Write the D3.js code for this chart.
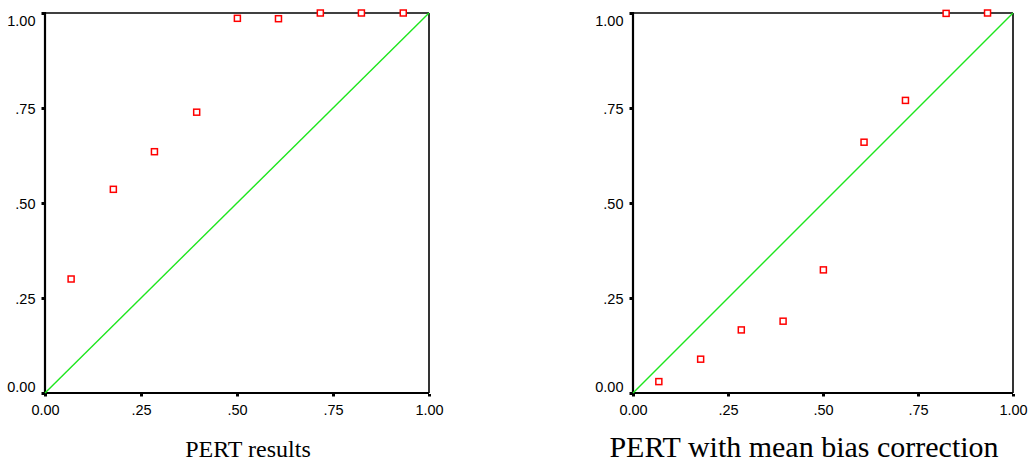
<!DOCTYPE html>
<html>
<head>
<meta charset="utf-8">
<script src="https://cdn.jsdelivr.net/npm/d3@7"></script>
<style>
  html, body { margin: 0; padding: 0; background: #fff; }
  svg { display: block; }
</style>
</head>
<body>
<svg id="chart" width="1030" height="464"></svg>
<script>
// ---- data ----
const tickValues = [0, 0.25, 0.5, 0.75, 1];
const tickLabels = ["0.00", ".25", ".50", ".75", "1.00"];
const xValues = [0.068, 0.178, 0.285, 0.395, 0.501, 0.608, 0.717, 0.824, 0.933];
const pertResults = [0.300, 0.536, 0.635, 0.739, 0.986, 0.985, 1.0, 1.0, 1.0];
const pertBiasCorrected = [0.030, 0.089, 0.166, 0.189, 0.324, 0.660, 0.770, 0.999, 1.0];
const panelTitles = ["PERT results", "PERT with mean bias correction"];

// ---- layout ----
const panels = [
  { x0: 45, x1: 429, y0: 393, y1: 13, values: pertResults, title: panelTitles[0], tx: 248, ts: 24 },
  { x0: 633, x1: 1013, y0: 393, y1: 13, values: pertBiasCorrected, title: panelTitles[1], tx: 804, ts: 30 }
];

const svg = d3.select("#chart");
const fmt = v => tickLabels[tickValues.indexOf(v)];

panels.forEach(p => {
  const x = d3.scaleLinear().domain([0, 1]).range([p.x0, p.x1]);
  const y = d3.scaleLinear().domain([0, 1]).range([p.y0, p.y1]);
  const g = svg.append("g");

  // x axis ticks + labels
  const xa = g.append("g").attr("transform", `translate(0,${p.y0 + 1})`)
    .call(d3.axisBottom(x).tickValues(tickValues).tickFormat(fmt).tickSizeInner(2.5).tickSizeOuter(0));
  xa.select(".domain").remove();
  xa.selectAll(".tick line").attr("stroke", "#000").attr("stroke-width", 3);
  xa.selectAll(".tick text")
    .attr("y", 21).attr("dy", 0)
    .attr("font-family", "'Liberation Sans', Arial, sans-serif")
    .attr("font-size", 14.5).attr("fill", "#000");

  // y axis ticks + labels
  const ya = g.append("g").attr("transform", `translate(${p.x0 - 1},0)`)
    .call(d3.axisLeft(y).tickValues(tickValues).tickFormat(fmt).tickSizeInner(2.5).tickSizeOuter(0));
  ya.select(".domain").remove();
  ya.selectAll(".tick line").attr("stroke", "#000").attr("stroke-width", 3);
  ya.selectAll(".tick text")
    .attr("x", -8.5)
    .attr("dy", d => d === 1 ? "0.85em" : (d === 0 ? "-0.1em" : "0.35em"))
    .attr("font-family", "'Liberation Sans', Arial, sans-serif")
    .attr("font-size", 14.5).attr("fill", "#000");

  // frame
  g.append("line").attr("x1", x(0)).attr("x2", x(1)).attr("y1", y(1)).attr("y2", y(1))
    .attr("stroke", "#000").attr("stroke-width", 1.6);
  g.append("line").attr("x1", x(1)).attr("x2", x(1)).attr("y1", y(1)).attr("y2", y(0))
    .attr("stroke", "#000").attr("stroke-width", 1.6);
  g.append("line").attr("x1", x(0)).attr("x2", x(0)).attr("y1", y(1) - 1).attr("y2", y(0) + 1)
    .attr("stroke", "#000").attr("stroke-width", 2.2);
  g.append("line").attr("x1", x(0) - 1).attr("x2", x(1)).attr("y1", y(0)).attr("y2", y(0))
    .attr("stroke", "#000").attr("stroke-width", 2.2);

  // diagonal reference line
  g.append("line").attr("x1", x(0)).attr("y1", y(0)).attr("x2", x(1)).attr("y2", y(1))
    .attr("stroke", "#1ee61e").attr("stroke-width", 1.4);

  // points
  const s = 6;
  g.selectAll("rect.pt").data(xValues.map((xv, i) => [xv, p.values[i]]))
    .join("rect").attr("class", "pt")
    .attr("x", d => x(d[0]) - s / 2).attr("y", d => y(d[1]) - s / 2)
    .attr("width", s).attr("height", s)
    .attr("fill", "#fff").attr("stroke", "#ff0000").attr("stroke-width", 1.5);

  // title
  g.append("text").attr("x", p.tx).attr("y", 457)
    .attr("text-anchor", "middle")
    .attr("font-family", "'Liberation Serif', 'Times New Roman', serif")
    .attr("font-size", p.ts).attr("fill", "#000")
    .text(p.title);
});
</script>
</body>
</html>
